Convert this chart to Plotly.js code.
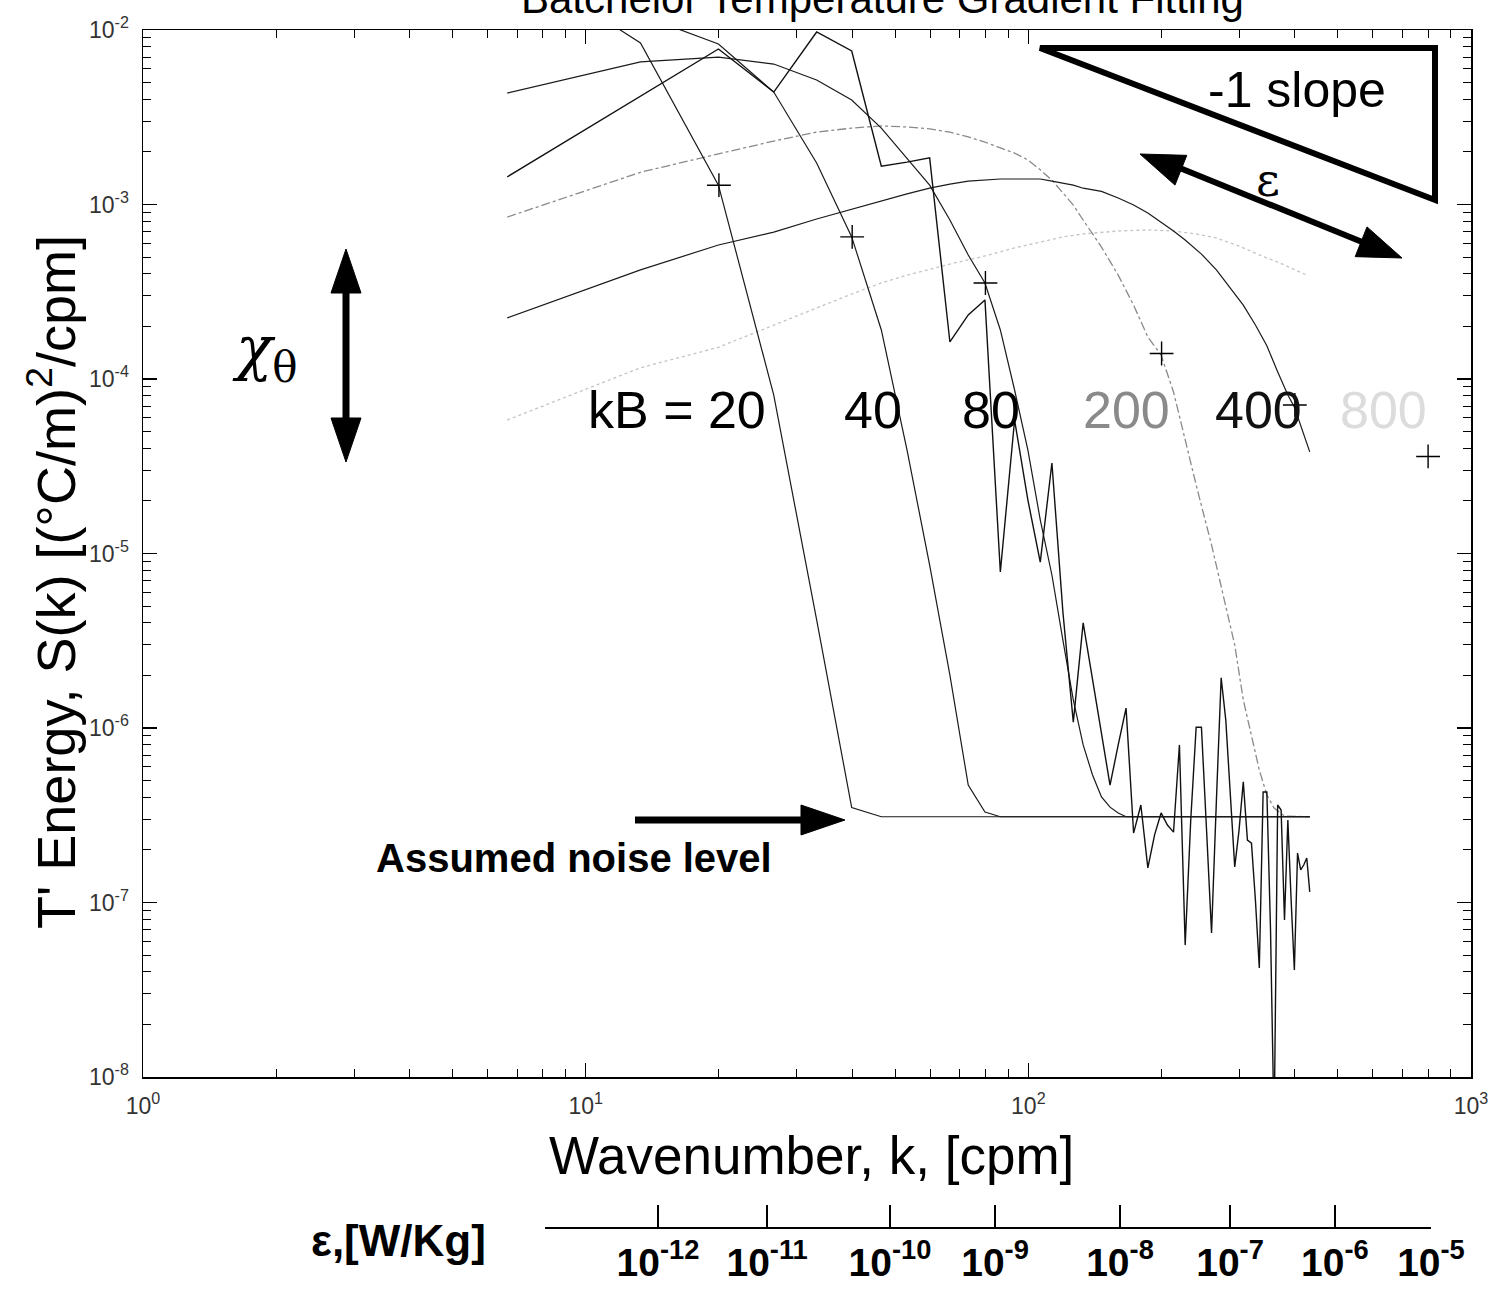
<!DOCTYPE html>
<html><head><meta charset="utf-8">
<script src="https://cdn.plot.ly/plotly-3.0.1.min.js"></script>
<style>html,body{margin:0;padding:0;background:#fff}#chart{width:1501px;height:1291px}</style>
</head><body><div id="chart"></div>
<script>
// ---------------- data ----------------
// Observed temperature-gradient spectrum
const kObs = [6.65,13.3,19.95,26.6,33.25,39.9,46.55,53.2,59.85,66.5,73.15,79.8,86.45,93.1,99.75,106.4,113.05,119.7,126.35,133.0,
  139.65,146.3,152.95,159.6,166.25,172.9,179.55,186.2,192.85,199.5,206.15,212.8,219.45,226.1,232.75,239.4,246.05,252.7,259.35,266.0,
  272.65,279.3,285.95,292.6,299.25,305.9,312.55,319.2,325.85,332.5,339.15,345.8,352.45,359.1,365.75,372.4,379.05,385.7,392.35,399.0,
  405.65,412.3,418.95,425.6,432.25];
const sObs = [1.44e-3,4.19e-3,7.78e-3,4.41e-3,9.74e-3,7.58e-3,1.66e-3,1.75e-3,1.85e-3,1.63e-4,2.33e-4,2.84e-4,7.83e-6,5.82e-5,2.03e-5,8.93e-6,3.30e-5,4.62e-6,1.08e-6,4.00e-6,
  1.88e-6,9.12e-7,4.71e-7,8.0e-7,1.30e-6,2.50e-7,3.62e-7,1.58e-7,2.44e-7,3.26e-7,2.78e-7,2.53e-7,8.0e-7,5.70e-8,2.97e-7,1.01e-6,1.01e-6,2.60e-7,6.68e-8,3.86e-7,
  1.94e-6,1.11e-6,3.86e-7,1.60e-7,2.60e-7,4.91e-7,2.28e-7,2.19e-7,1.03e-7,4.21e-8,4.30e-7,4.30e-7,6.95e-8,5.0e-9,3.62e-7,3.39e-7,7.94e-8,2.97e-7,1.03e-7,4.10e-8,
  1.92e-7,1.54e-7,1.64e-7,1.80e-7,1.15e-7];

// Batchelor fits (with noise), kB = 20, 40, 80, 200, 400, 800 cpm
const k20 = [6.65,13.3,19.95,26.6,33.25,39.9,46.55,432.25];
const s20 = [2.62e-2,8.42e-3,1.29e-3,8.09e-5,4.16e-6,3.5e-7,3.1e-7,3.1e-7];

const k40 = [6.65,13.3,19.95,26.6,33.25,39.9,46.55,53.2,59.85,66.5,73.15,79.8,86.45,432.25];
const s40 = [1.07e-2,1.22e-2,8.31e-3,4.41e-3,1.73e-3,6.52e-4,1.91e-4,3.92e-5,8.59e-6,2.01e-6,4.71e-7,3.30e-7,3.1e-7,3.1e-7];

const k80 = [6.65,13.3,19.95,26.6,33.25,39.9,46.55,53.2,59.85,66.5,73.15,79.8,86.45,93.1,99.75,106.4,113.05,119.7,126.35,133.0,
  139.65,146.3,152.95,159.6,166.25,432.25];
const s80 = [4.35e-3,6.56e-3,7.00e-3,6.38e-3,5.17e-3,3.97e-3,2.74e-3,1.85e-3,1.29e-3,8.15e-4,5.14e-4,3.55e-4,1.91e-4,8.65e-5,3.92e-5,1.56e-5,7.53e-6,3.19e-6,1.45e-6,8.0e-7,
  5.38e-7,4.03e-7,3.52e-7,3.26e-7,3.1e-7,3.1e-7];

const k200 = [6.65,13.3,19.95,26.6,33.25,39.9,46.55,53.2,59.85,66.5,73.15,79.8,86.45,93.1,99.75,106.4,113.05,119.7,126.35,133.0,
  146.3,159.6,172.9,186.2,199.5,212.8,226.1,239.4,259.35,279.3,292.6,305.9,319.2,332.5,345.8,359.1,379.05,432.25];
const s200 = [8.47e-4,1.53e-3,1.95e-3,2.31e-3,2.60e-3,2.74e-3,2.82e-3,2.78e-3,2.71e-3,2.60e-3,2.44e-3,2.28e-3,2.11e-3,1.97e-3,1.80e-3,1.58e-3,1.38e-3,1.16e-3,9.93e-4,8.15e-4,
  5.70e-4,3.94e-4,2.65e-4,1.74e-4,1.37e-4,8.43e-5,4.47e-5,2.47e-5,1.12e-5,5.00e-6,2.99e-6,1.45e-6,9.12e-7,5.74e-7,4.13e-7,3.48e-7,3.13e-7,3.1e-7];

const k400 = [6.65,13.3,19.95,26.6,33.25,39.9,46.55,53.2,59.85,66.5,73.15,79.8,86.45,93.1,99.75,106.4,113.05,119.7,126.35,133.0,
  146.3,159.6,172.9,186.2,199.5,212.8,226.1,246.05,266.0,285.95,305.9,325.85,345.8,365.75,385.7,399.0,412.3,432.25];
const s400 = [2.24e-4,4.22e-4,5.86e-4,6.95e-4,8.26e-4,9.42e-4,1.05e-3,1.15e-3,1.24e-3,1.31e-3,1.36e-3,1.38e-3,1.40e-3,1.40e-3,1.40e-3,1.40e-3,1.36e-3,1.33e-3,1.29e-3,1.24e-3,
  1.19e-3,1.09e-3,9.93e-4,8.93e-4,7.94e-4,7.05e-4,6.26e-4,5.20e-4,4.22e-4,3.32e-4,2.65e-4,2.04e-4,1.55e-4,1.10e-4,8.09e-5,6.91e-5,5.45e-5,3.82e-5];

const k800 = [6.65,13.3,19.95,26.6,33.25,39.9,46.55,53.2,66.5,79.8,93.1,106.4,119.7,133.0,159.6,186.2,212.8,239.4,266.0,299.25,332.5,365.75,399.0,425.6];
const s800 = [5.82e-5,1.16e-4,1.52e-4,2.04e-4,2.55e-4,3.07e-4,3.55e-4,3.94e-4,4.56e-4,5.07e-4,5.64e-4,6.10e-4,6.52e-4,6.78e-4,7.05e-4,7.15e-4,7.05e-4,6.78e-4,6.43e-4,5.78e-4,5.14e-4,4.68e-4,4.22e-4,3.94e-4];

// "+" markers at k = kB
const kPlus = [20,40,80,200,400,800];
const sPlus = [1.29e-3,6.52e-4,3.55e-4,1.40e-4,7.1e-5,3.6e-5];

// labels
const kBLabels = ['kB = 20','40','80','200','400','800'];
const xTickVals = [1,10,100,1000];
const xTickText = ['10<sup>0</sup>','10<sup>1</sup>','10<sup>2</sup>','10<sup>3</sup>'];
const yTickVals = [1e-8,1e-7,1e-6,1e-5,1e-4,1e-3,1e-2];
const yTickText = ['10<sup>-8</sup>','10<sup>-7</sup>','10<sup>-6</sup>','10<sup>-5</sup>','10<sup>-4</sup>','10<sup>-3</sup>','10<sup>-2</sup>'];
// epsilon scale: wavenumber position of each epsilon tick, and its label
const epsTickK = [8.09,14.57,25.7,48.7,84.1,161.1,285.5,492.7,812];
const epsTickText = ['','10<sup>-12</sup>','10<sup>-11</sup>','10<sup>-10</sup>','10<sup>-9</sup>','10<sup>-8</sup>','10<sup>-7</sup>','10<sup>-6</sup>','10<sup>-5</sup>'];

// ---------------- layout helpers ----------------
const W=1501,H=1291,ML=143,MR=30,MT=30,MB=20;
const PW=W-ML-MR, PH=H-MT-MB;
const px = x => (x-ML)/PW;
const py = y => (H-MB-y)/PH;
const FONT = 'Liberation Sans, Arial, Helvetica, sans-serif';
const SERIF = 'DejaVu Serif, Liberation Serif, serif';

function minorVals(lo, hi){ const v=[]; for(let e=lo;e<hi;e++){ for(let m=2;m<=9;m++) v.push(m*Math.pow(10,e)); } return v; }

const lineBlack = {color:'#1a1a1a', width:1.2};
const traces = [
  {x:k800, y:s800, mode:'lines', line:{color:'#c4c4c4', width:1.3, dash:'dot'}},
  {x:k200, y:s200, mode:'lines', line:{color:'#8a8a8a', width:1.3, dash:'dashdot'}},
  {x:k400, y:s400, mode:'lines', line:lineBlack},
  {x:k20, y:s20, mode:'lines', line:lineBlack},
  {x:k40, y:s40, mode:'lines', line:lineBlack},
  {x:k80, y:s80, mode:'lines', line:lineBlack},
  {x:kObs, y:sObs, mode:'lines', line:{color:'#111', width:1.4}},
  {x:kPlus, y:sPlus, mode:'markers', cliponaxis:false, marker:{symbol:'cross-thin', size:17, line:{width:1.4, color:'#000'}}}
];

const yMainBottom = py(1077);
const epsAxisY = py(1227);
const epsLo = Math.log10(epsTickK[0]), epsHi = Math.log10(epsTickK[epsTickK.length-1]);

const annotations = [
  {text:'Batchelor Temperature Gradient Fitting', x:px(882), y:py(24), xref:'paper', yref:'paper', xanchor:'center', yanchor:'bottom', showarrow:false, font:{size:42, family:FONT, color:'#000'}},
  {text:'Wavenumber, k, [cpm]', x:px(811), y:py(1155), xref:'paper', yref:'paper', xanchor:'center', yanchor:'middle', showarrow:false, font:{size:53, family:FONT, color:'#000'}},
  {text:"T' Energy, S(k) [(°C/m)<sup>2</sup>/cpm]", x:px(52), y:py(582), xref:'paper', yref:'paper', xanchor:'center', yanchor:'middle', textangle:-90, showarrow:false, font:{size:54, family:FONT, color:'#000'}},
  {text:'<i>χ</i><sub>θ</sub>', x:px(265), y:py(352), xref:'paper', yref:'paper', xanchor:'center', yanchor:'middle', showarrow:false, font:{size:60, family:SERIF, color:'#000'}},
  {text:'-1 slope', x:px(1297), y:py(90), xref:'paper', yref:'paper', xanchor:'center', yanchor:'middle', showarrow:false, font:{size:50, family:FONT, color:'#000'}},
  {text:'ε', x:px(1268), y:py(180), xref:'paper', yref:'paper', xanchor:'center', yanchor:'middle', showarrow:false, font:{size:46, family:SERIF, color:'#000'}},
  {text:'<b>Assumed noise level</b>', x:px(574), y:py(858), xref:'paper', yref:'paper', xanchor:'center', yanchor:'middle', showarrow:false, font:{size:40, family:FONT, color:'#000'}},
  {text:'<b>ε,[W/Kg]</b>', x:px(398), y:py(1240), xref:'paper', yref:'paper', xanchor:'center', yanchor:'middle', showarrow:false, font:{size:44, family:FONT, color:'#000'}}
];
const kbX = [677,873,991,1126,1258,1383];
const kbCol = ['#000','#000','#000','#8a8a8a','#111','#dcdcdc'];
kBLabels.forEach((t,i)=>annotations.push({text:t, x:px(kbX[i]), y:py(410), xref:'paper', yref:'paper', xanchor:'center', yanchor:'middle', showarrow:false, font:{size:52, family:FONT, color:kbCol[i]}}));

// decorative shapes (pixel positions -> paper)
function path(pts, close){ return pts.map((p,i)=>(i?'L ':'M ')+px(p[0]).toFixed(5)+' '+py(p[1]).toFixed(5)).join(' ')+(close?' Z':''); }
function arrowHead(tip, dir, len, half){
  const L=Math.hypot(dir[0],dir[1]); const u=[dir[0]/L,dir[1]/L]; const n=[-u[1],u[0]];
  const b=[tip[0]-u[0]*len, tip[1]-u[1]*len];
  return {type:'path', xref:'paper', yref:'paper', path:path([tip,[b[0]+n[0]*half,b[1]+n[1]*half],[b[0]-n[0]*half,b[1]-n[1]*half]],true), fillcolor:'#000', line:{color:'#000', width:1}};
}
function seg(a,b,w){ return {type:'line', xref:'paper', yref:'paper', x0:px(a[0]), y0:py(a[1]), x1:px(b[0]), y1:py(b[1]), line:{color:'#000', width:w}}; }

const shapes = [
  {type:'path', xref:'paper', yref:'paper', path:path([[1040,48],[1435,48],[1435,200]],true), line:{color:'#000', width:6}, fillcolor:'rgba(0,0,0,0)'},
  // epsilon double arrow
  seg([1170,164],[1372,246],6),
  arrowHead([1140,154],[-262,-104],44,16),
  arrowHead([1402,258],[262,104],44,16),
  // chi double arrow
  seg([346,285],[346,425],7),
  arrowHead([346,249],[0,-1],44,15),
  arrowHead([346,462],[0,1],44,15),
  // noise arrow
  seg([635,820],[810,820],7),
  arrowHead([845,820],[1,0],44,15)
];

const axisCommon = {showline:true, linecolor:'#000', linewidth:1.5, ticks:'inside', tickcolor:'#000', tickwidth:1.2, showgrid:false, zeroline:false};

const layout = {
  width:W, height:H, margin:{l:ML, r:MR, t:MT, b:MB}, paper_bgcolor:'#fff', plot_bgcolor:'#fff', showlegend:false,
  font:{family:FONT, color:'#000'},
  xaxis:Object.assign({}, axisCommon, {type:'log', range:[0,3], domain:[0,1], anchor:'y', mirror:'ticks', ticklen:14,
    tickmode:'array', tickvals:xTickVals, ticktext:xTickText, tickfont:{size:23, color:'#333', family:FONT}, ticklabelstandoff:8,
    minor:{ticks:'inside', ticklen:8, tickwidth:1, tickcolor:'#000', tickmode:'array', tickvals:minorVals(0,3)}}),
  yaxis:Object.assign({}, axisCommon, {type:'log', range:[-8,-2], domain:[yMainBottom,1], anchor:'x', mirror:'ticks', ticklen:14,
    tickmode:'array', tickvals:yTickVals, ticktext:yTickText, tickfont:{size:23, color:'#333', family:FONT}, ticklabelstandoff:8,
    minor:{ticks:'inside', ticklen:8, tickwidth:1, tickcolor:'#000', tickmode:'array', tickvals:minorVals(-8,-2)}}),
  xaxis2:Object.assign({}, axisCommon, {type:'log', range:[epsLo, epsHi], domain:[epsLo/3, epsHi/3], anchor:'y2', linewidth:2, ticklen:22, tickwidth:1.5,
    tickmode:'array', tickvals:epsTickK, ticktext:epsTickText.map(t=>t?'<b>'+t+'</b>':''), tickfont:{size:39, color:'#000', family:FONT}, ticklabelstandoff:0}),
  yaxis2:{domain:[epsAxisY, epsAxisY+0.02], anchor:'x2', visible:false, range:[0,1]},
  annotations:annotations, shapes:shapes
};

// invisible point that creates the epsilon-scale subplot
traces.push({x:[epsTickK[0]], y:[0.5], xaxis:'x2', yaxis:'y2', mode:'markers', marker:{opacity:0}, hoverinfo:'skip'});

Plotly.newPlot('chart', traces, layout, {displayModeBar:false, staticPlot:true});
</script></body></html>
